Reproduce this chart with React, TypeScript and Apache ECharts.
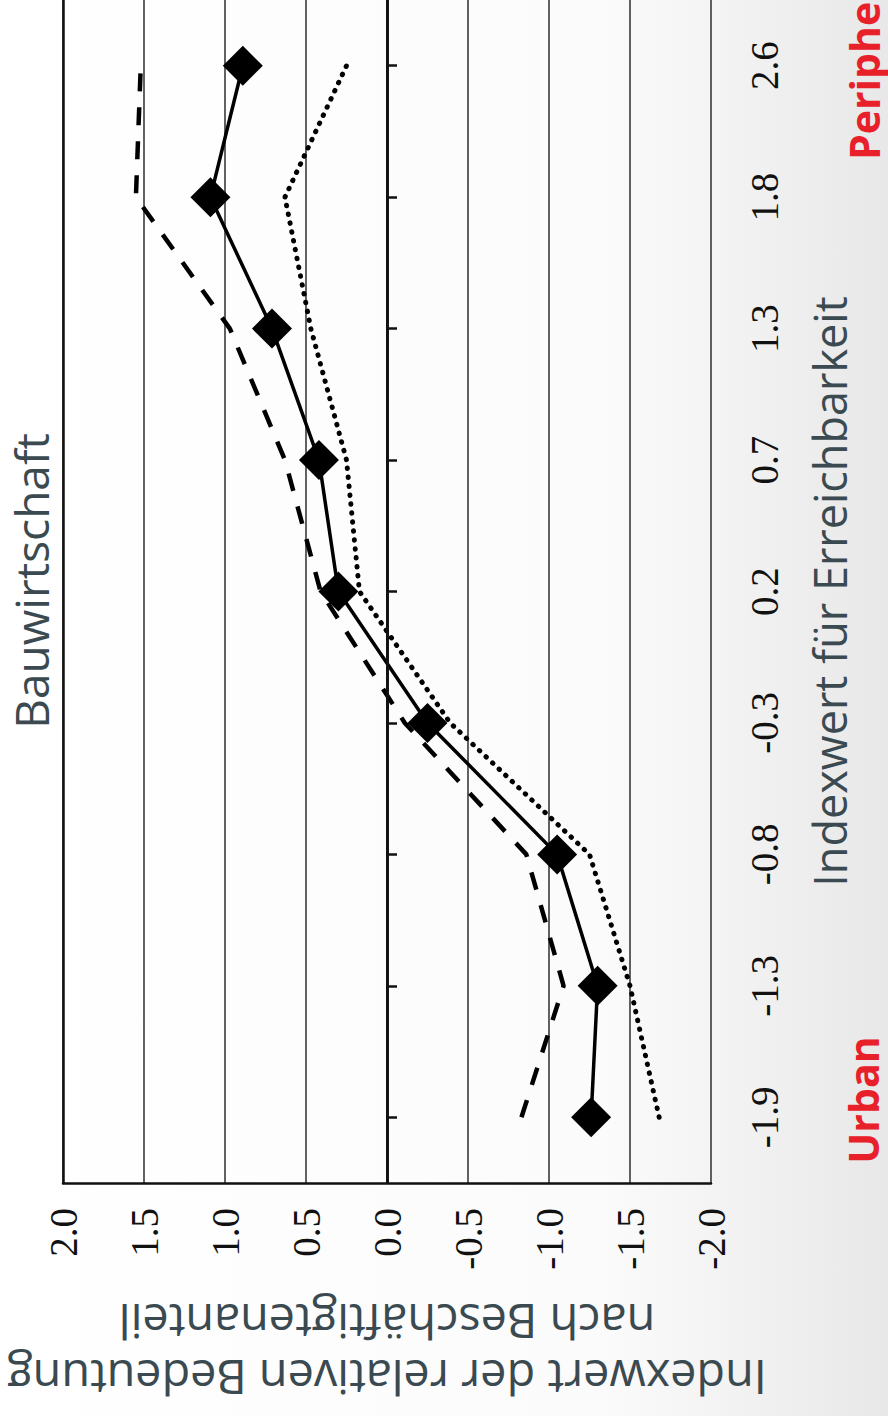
import React, { useEffect, useRef } from "react";
import * as echarts from "echarts";

const categories = ["-1.9", "-1.3", "-0.8", "-0.3", "0.2", "0.7", "1.3", "1.8", "2.6"];
const solidValues = [-1.26, -1.3, -1.05, -0.25, 0.3, 0.42, 0.71, 1.09, 0.89];
const dashedValues = [-0.83, -1.09, -0.86, -0.11, 0.41, 0.63, 0.97, 1.55, 1.52];
const dottedValues = [-1.68, -1.5, -1.25, -0.39, 0.17, 0.25, 0.47, 0.63, 0.25];

const titleText = "Bauwirtschaft";
const valueAxisName = "Indexwert der relativen Bedeutung\nnach Beschäftigtenanteil";
const categoryAxisName = "Indexwert für Erreichbarkeit";
const lowLabel = "Urban";
const highLabel = "Peripherie";

const toPairs = (vals: number[]) => vals.map((v, i) => [v, categories[i]]);

export default function App() {
  const ref = useRef<HTMLDivElement>(null);
  useEffect(() => {
    if (!ref.current) return;
    const chart = echarts.init(ref.current, null, { renderer: "svg" });
    const slate = "#3a4a50";
    const red = "#e8202a";
    const serif = "'Liberation Serif', 'Times New Roman', serif";
    const sans = "'Open Sans', 'Noto Sans', sans-serif";
    chart.setOption({
      animation: false,
      backgroundColor: new echarts.graphic.LinearGradient(0, 0, 1, 0, [
        { offset: 0, color: "#ffffff" },
        { offset: 0.68, color: "#fbfbfb" },
        { offset: 1, color: "#e8e8e8" },
      ]),
      grid: {
        left: 63,
        top: -3,
        width: 648,
        height: 1186,
        show: false,
      },
      xAxis: {
        type: "value",
        min: -2,
        max: 2,
        interval: 0.5,
        inverse: true,
        position: "bottom",
        axisLine: { show: true, lineStyle: { color: "#111", width: 2.5 } },
        axisTick: { show: false },
        splitLine: { show: true, lineStyle: { color: "#3a3a3a", width: 1.6 } },
        axisLabel: {
          rotate: 90,
          fontSize: 39,
          fontFamily: serif,
          color: "#111",
          margin: 25,
          formatter: (v: number) => v.toFixed(1),
        },
        name: valueAxisName,
        nameLocation: "middle",
        nameRotate: 180,
        nameGap: 111,
        nameTextStyle: {
          fontFamily: sans,
          fontSize: 46.8,
          color: slate,
          lineHeight: 56,
        },
      },
      yAxis: [
        {
          type: "category",
          data: categories,
          position: "right",
          boundaryGap: true,
          axisLine: { show: true, lineStyle: { color: "#111", width: 2.5 } },
          axisTick: {
            show: true,
            alignWithLabel: true,
            length: 10,
            lineStyle: { color: "#111", width: 2.5 },
          },
          splitLine: { show: false },
          axisLabel: {
            rotate: 90,
            interval: 0,
            fontSize: 39,
            fontFamily: serif,
            color: "#111",
            margin: 34,
          },
          name: categoryAxisName,
          nameLocation: "middle",
          nameRotate: 90,
          nameGap: 96,
          nameTextStyle: { fontFamily: sans, fontSize: 45, color: slate },
        },
        {
          type: "category",
          data: categories,
          position: "left",
          boundaryGap: true,
          axisLine: { show: true, lineStyle: { color: "#111", width: 2.5 } },
          axisTick: { show: false },
          axisLabel: { show: false },
          splitLine: { show: false },
        },
      ],
      graphic: [
        {
          type: "text",
          x: 31,
          y: 581,
          rotation: Math.PI / 2,
          style: {
            text: titleText,
            font: `46px ${sans}`,
            fill: slate,
            align: "center",
            verticalAlign: "middle",
          },
        },
        {
          type: "text",
          x: 863,
          y: 1100,
          rotation: Math.PI / 2,
          style: {
            text: lowLabel,
            font: `bold 41px ${sans}`,
            lineHeight: 40,
            fill: red,
            align: "center",
            verticalAlign: "middle",
          },
        },
        {
          type: "text",
          x: 864,
          y: 160,
          rotation: Math.PI / 2,
          style: {
            text: highLabel,
            font: `bold 41px ${sans}`,
            lineHeight: 40,
            fill: red,
            align: "left",
            verticalAlign: "middle",
          },
        },
      ],
      series: [
        {
          name: "dotted",
          type: "line",
          data: toPairs(dottedValues),
          symbol: "none",
          lineStyle: { color: "#000", width: 5, type: [0.5, 8.5], cap: "round" },
          z: 2,
          markLine: {
            silent: true,
            symbol: ["none", "none"],
            label: { show: false },
            lineStyle: { type: "solid", color: "#111", width: 2.8 },
            data: [{ xAxis: 0 }],
          },
        },
        {
          name: "dashed",
          type: "line",
          data: toPairs(dashedValues),
          symbol: "none",
          lineStyle: { color: "#000", width: 4.5, type: [18, 16] },
          z: 3,
        },
        {
          name: "solid",
          type: "line",
          data: toPairs(solidValues),
          symbol: "diamond",
          symbolSize: 40,
          itemStyle: { color: "#000" },
          lineStyle: { color: "#000", width: 3.5 },
          z: 4,
        },
      ],
    });
    return () => chart.dispose();
  }, []);
  return (
    <div
      ref={ref}
      style={{ position: "absolute", left: 0, top: 0, width: 888, height: 1416 }}
    />
  );
}
